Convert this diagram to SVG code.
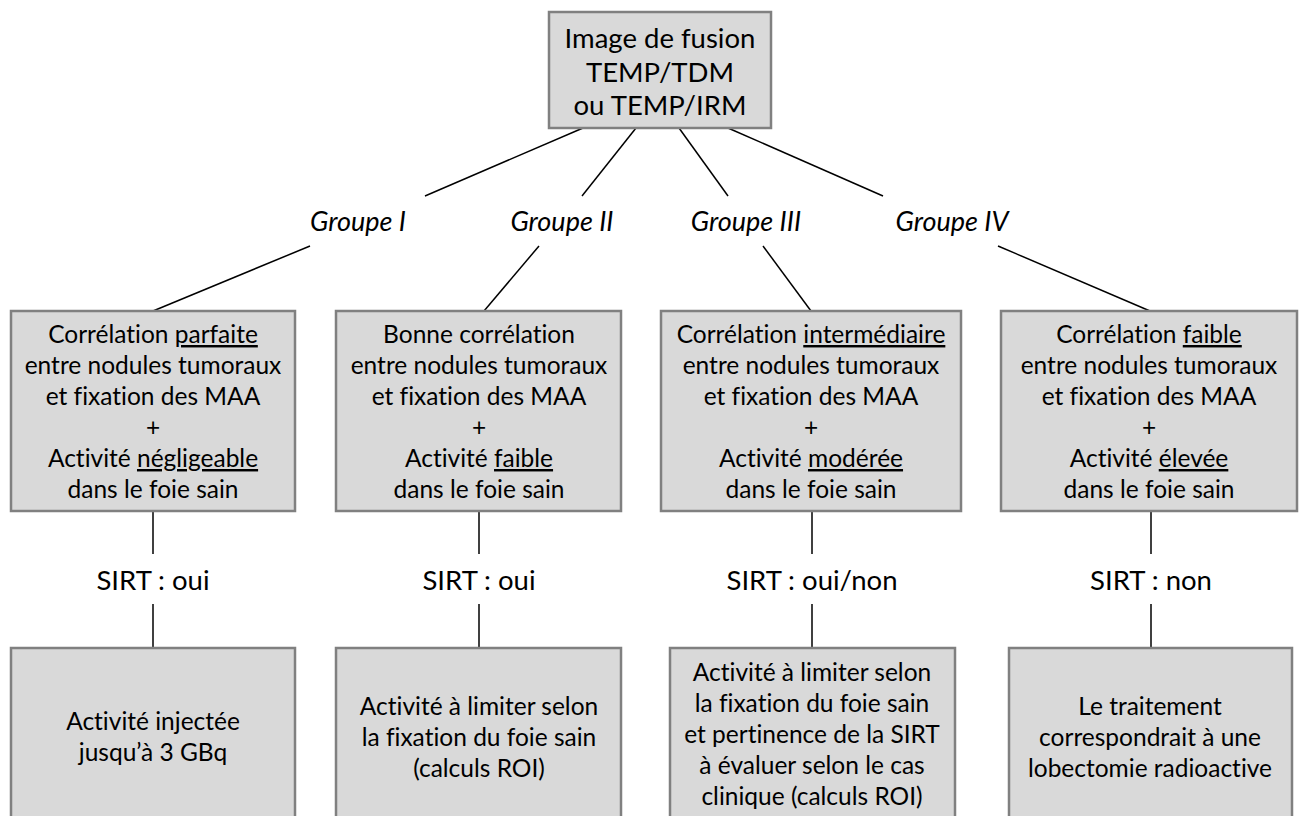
<svg xmlns="http://www.w3.org/2000/svg" width="1299" height="816" viewBox="0 0 1299 816">
<style>
.box{fill:#d9d9d9;stroke:#808080;stroke-width:2.5}
.t{font-family:Lato,"Open Sans","Liberation Sans",sans-serif;font-size:24.5px;fill:#000;text-anchor:middle;font-variant-ligatures:none}
.big{font-size:27.5px}
.grp{font-family:Lato,"Open Sans","Liberation Sans",sans-serif;font-size:27px;font-style:italic;fill:#000;text-anchor:middle;font-variant-ligatures:none}
.u{text-decoration:underline}
.c{stroke:#000;stroke-width:1.5;fill:none}
</style>
<rect width="1299" height="816" fill="#fff"/>
<g id="connectors">
<line class="c" x1="583" y1="128" x2="425" y2="196"/>
<line class="c" x1="636" y1="128" x2="582" y2="196"/>
<line class="c" x1="679" y1="128" x2="728" y2="196"/>
<line class="c" x1="728" y1="128" x2="883" y2="196"/>
<line class="c" x1="310" y1="246" x2="153" y2="311"/>
<line class="c" x1="539" y1="246" x2="484" y2="311"/>
<line class="c" x1="763" y1="246" x2="811" y2="311"/>
<line class="c" x1="998" y1="246" x2="1150" y2="311"/>
<line class="c" x1="153" y1="511" x2="153" y2="554"/>
<line class="c" x1="153" y1="604" x2="153" y2="648"/>
<line class="c" x1="479" y1="511" x2="479" y2="554"/>
<line class="c" x1="479" y1="604" x2="479" y2="648"/>
<line class="c" x1="812" y1="511" x2="812" y2="554"/>
<line class="c" x1="812" y1="604" x2="812" y2="648"/>
<line class="c" x1="1151" y1="511" x2="1151" y2="554"/>
<line class="c" x1="1151" y1="604" x2="1151" y2="648"/>
</g>
<g id="root">
<rect class="box" x="549" y="12" width="222" height="116"/>
<text class="t big" x="660" y="48">Image de fusion</text>
<text class="t big" x="660" y="82">TEMP/TDM</text>
<text class="t big" x="660" y="115">ou TEMP/IRM</text>
</g>
<g id="labels">
<text class="grp" x="358" y="231">Groupe I</text>
<text class="grp" x="562" y="231">Groupe II</text>
<text class="grp" x="746" y="231">Groupe III</text>
<text class="grp" x="952" y="231">Groupe IV</text>
<text class="t big" x="153" y="590">SIRT : oui</text>
<text class="t big" x="479" y="590">SIRT : oui</text>
<text class="t big" x="812" y="590">SIRT : oui/non</text>
<text class="t big" x="1151" y="590">SIRT : non</text>
</g>
<g id="g1">
<rect class="box" x="11" y="311" width="284" height="200"/>
<text class="t" x="153" y="343">Corrélation <tspan class="u">parfaite</tspan></text>
<text class="t" x="153" y="374">entre nodules tumoraux</text>
<text class="t" x="153" y="405">et fixation des MAA</text>
<text class="t" x="153" y="436">+</text>
<text class="t" x="153" y="467">Activité <tspan class="u">négligeable</tspan></text>
<text class="t" x="153" y="498">dans le foie sain</text>
</g>
<g id="g2">
<rect class="box" x="336" y="311" width="285" height="200"/>
<text class="t" x="479" y="343">Bonne corrélation</text>
<text class="t" x="479" y="374">entre nodules tumoraux</text>
<text class="t" x="479" y="405">et fixation des MAA</text>
<text class="t" x="479" y="436">+</text>
<text class="t" x="479" y="467">Activité <tspan class="u">faible</tspan></text>
<text class="t" x="479" y="498">dans le foie sain</text>
</g>
<g id="g3">
<rect class="box" x="661" y="311" width="300" height="200"/>
<text class="t" x="811" y="343">Corrélation <tspan class="u">intermédiaire</tspan></text>
<text class="t" x="811" y="374">entre nodules tumoraux</text>
<text class="t" x="811" y="405">et fixation des MAA</text>
<text class="t" x="811" y="436">+</text>
<text class="t" x="811" y="467">Activité <tspan class="u">modérée</tspan></text>
<text class="t" x="811" y="498">dans le foie sain</text>
</g>
<g id="g4">
<rect class="box" x="1001" y="311" width="296" height="200"/>
<text class="t" x="1149" y="343">Corrélation <tspan class="u">faible</tspan></text>
<text class="t" x="1149" y="374">entre nodules tumoraux</text>
<text class="t" x="1149" y="405">et fixation des MAA</text>
<text class="t" x="1149" y="436">+</text>
<text class="t" x="1149" y="467">Activité <tspan class="u">élevée</tspan></text>
<text class="t" x="1149" y="498">dans le foie sain</text>
</g>
<g id="r1">
<rect class="box" x="11" y="648" width="284" height="190"/>
<text class="t" x="153" y="730">Activité injectée</text>
<text class="t" x="153" y="761">jusqu’à 3 GBq</text>
</g>
<g id="r2">
<rect class="box" x="336" y="648" width="285" height="190"/>
<text class="t" x="479" y="715">Activité à limiter selon</text>
<text class="t" x="479" y="746">la fixation du foie sain</text>
<text class="t" x="479" y="777">(calculs ROI)</text>
</g>
<g id="r3">
<rect class="box" x="670" y="648" width="285" height="190"/>
<text class="t" x="812" y="681">Activité à limiter selon</text>
<text class="t" x="812" y="712">la fixation du foie sain</text>
<text class="t" x="812" y="743">et pertinence de la SIRT</text>
<text class="t" x="812" y="774">à évaluer selon le cas</text>
<text class="t" x="812" y="805">clinique (calculs ROI)</text>
</g>
<g id="r4">
<rect class="box" x="1009" y="648" width="283" height="190"/>
<text class="t" x="1150" y="715">Le traitement</text>
<text class="t" x="1150" y="746">correspondrait à une</text>
<text class="t" x="1150" y="777">lobectomie radioactive</text>
</g>
</svg>
